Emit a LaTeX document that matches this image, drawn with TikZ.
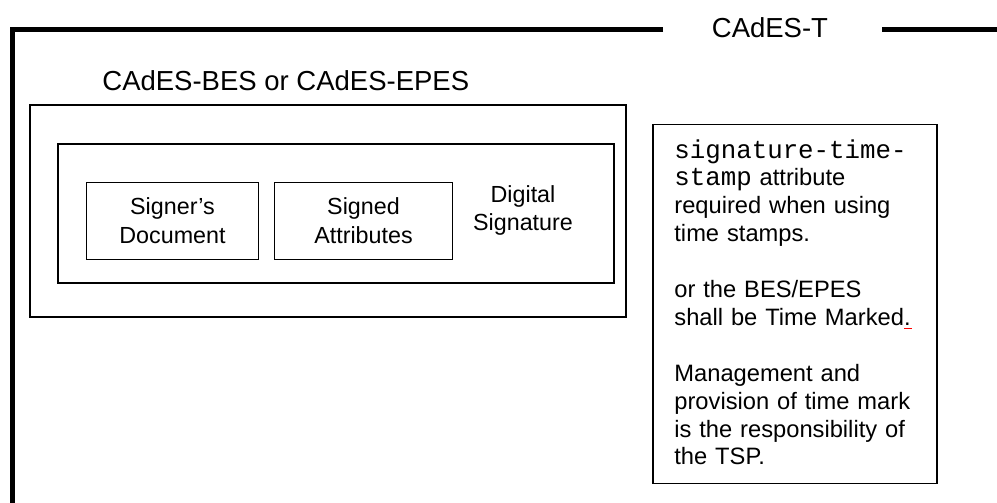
\documentclass[tikz,border=0pt]{standalone}
\usepackage{fontspec}
\setmainfont{Liberation Sans}
\setmonofont{Liberation Mono}
\usepackage{xcolor}
\usepackage{tikz}
\usetikzlibrary{positioning}

\newcommand\attrname[1]{{\ttfamily\fontsize{12.9}{13.95}\selectfont #1}}

\begin{document}
\begin{tikzpicture}[x=0.5pt, y=-0.5pt, thin frame/.style={draw, line width=0.7pt, inner sep=0pt}, heavy/.style={line width=2.5pt}, title/.style={font=\fontsize{13.75}{16}\selectfont, inner sep=0pt, anchor=base west}, box text/.style={font=\fontsize{11.65}{14.5}\selectfont, align=center}]
\useasboundingbox (0,0) rectangle (997,503);
\coordinate (tl) at (663,29.5);
\coordinate (corner) at (12,29.5);
\coordinate (bottom) at (12,508);
\coordinate (tr) at (882,29.5);
\coordinate (edge) at (1000,29.5);
\node[title] (cadest) at (711.5,37.7) {CAdES-T};
\node[title] (beslabel) at (102,90.7) {CAdES-BES or CAdES-EPES};
\node[thin frame, minimum width=298pt, minimum height=106pt] (bes) at (328,211) {};
\node[thin frame, minimum width=278pt, minimum height=69.5pt] (sig) at (336,213.5) {};
\node[thin frame, box text, minimum width=85.8pt, minimum height=38.5pt] (doc) at (172.5,220.8) {Signer’s\\Document};
\node[thin frame, box text, minimum width=89.2pt, minimum height=38.5pt] (attrs) at (363.5,220.8) {Signed\\Attributes};
\node[box text, font=\fontsize{11.65}{14}\selectfont, inner sep=0pt] (dsig) at (523,210) {Digital\\Signature};
\node[thin frame, minimum width=142pt, minimum height=179.5pt] (tsbox) at (795,303.7) {};
\tikzstyle{every node}=[font=\fontsize{11.85}{13.95}\selectfont]
\node[anchor=base west, inner sep=0pt, text width=130pt, align=left] (tsnote) at (674,158)
{\attrname{signature-time-}\\
\attrname{stamp} attribute\\
required when using\\
time stamps.\\[13.95pt]
or the BES/EPES\\
shall be Time Marked\rlap{\color{red}\rule[-2pt]{4pt}{0.5pt}}.\\[13.95pt]
Management and\\
provision of time mark\\
is the responsibility of\\
the TSP.};
\draw[heavy] (tl) -- (corner) -- (bottom);
\draw[heavy] (tr) -- (edge);
\end{tikzpicture}
\end{document}
